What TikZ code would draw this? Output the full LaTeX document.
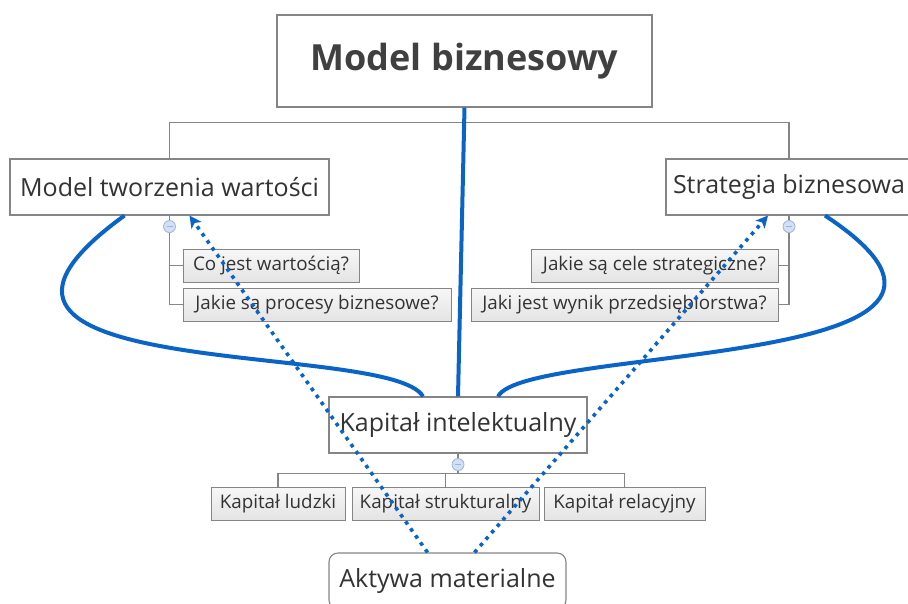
\documentclass[tikz,border=0pt]{standalone}
\usepackage{fontspec}
\setmainfont{Open Sans}
\usetikzlibrary{arrows.meta,calc}
\definecolor{cBoxD}{HTML}{858585}
\definecolor{cNoteF}{HTML}{F7F7F7}
\definecolor{cNoteB}{HTML}{E4E4E4}
\definecolor{cText}{HTML}{333333}
\definecolor{cRoot}{HTML}{404040}
\definecolor{cLink}{HTML}{0A64C8}
\definecolor{cMinusF}{HTML}{D2E0F5}
\definecolor{cMinusD}{HTML}{9DB4D6}
\tikzset{
  topic/.style = {draw=cBoxD, line width=1.1pt, fill=white, text=cText,
                  inner sep=0pt, minimum height=56pt, font=\fontsize{25}{30}\selectfont},
  root/.style  = {topic, text=cRoot, minimum height=92pt,
                  font=\fontsize{36}{42}\selectfont\bfseries},
  note/.style  = {draw=cBoxD, line width=1pt, top color=cNoteF, bottom color=cNoteB,
                  text=cText, inner sep=0pt, minimum height=33pt,
                  font=\fontsize{18.8}{22}\selectfont},
  tree/.style  = {cBoxD, line width=1.3pt},
  link/.style  = {cLink, line width=4pt},
  linkarr/.style = {cLink, line width=3.6pt, dash pattern=on 3.6pt off 5pt,
                  -{Stealth[length=12pt,width=12pt,inset=3pt]}},
  minus/.pic = {
    \draw[cMinusD, fill=cMinusF, line width=0.8pt] (0,0) circle (6pt);
    \draw[cMinusD, line width=1pt] (-3,0) -- (3,0);
  },
}
\begin{document}
\begin{tikzpicture}[x=1pt,y=-1pt]
  \useasboundingbox (0,0) rectangle (908,603);
  % main topics
  \node[root, minimum width=375pt] (mb) at (464.5,61) {Model biznesowy};
  \node[topic, minimum width=319pt] (mtw) at (169.5,187) {Model tworzenia wartości};
  \node[topic, minimum width=246pt] (sb) at (789,187) {Strategia biznesowa};
  \node[topic, minimum width=258pt] (ki) at (458,425) {Kapitał intelektualny};
  \node[topic, minimum width=237pt, rounded corners=9pt] (am) at (447.5,581) {Aktywa materialne};
  % questions
  \node[note, minimum width=176pt] (q1) at (271,265.5) {Co jest wartością?};
  \node[note, minimum width=268pt] (q2) at (317,304.5) {Jakie są procesy biznesowe?};
  \node[note, minimum width=247pt] (q3) at (654.5,265.5) {Jakie są cele strategiczne?};
  \node[note, minimum width=307pt] (q4) at (624.5,304.5) {Jaki jest wynik przedsiębiorstwa?};
  % capital parts
  \node[note, minimum width=134pt] (k1) at (278,503.5) {Kapitał ludzki};
  \node[note, minimum width=187pt] (k2) at (445.5,503.5) {Kapitał strukturalny};
  \node[note, minimum width=161pt] (k3) at (624.5,503.5) {Kapitał relacyjny};
  % tree lines
  \draw[tree] (mb.south) -- ++(0,15) coordinate (split);
  \draw[tree] (mtw.north) |- (split) -| (sb.north);
  \draw[tree] (mtw.south) |- (q1.west);
  \draw[tree] (mtw.south) |- (q2.west);
  \draw[tree] (sb.south) |- (q3.east);
  \draw[tree] (sb.south) |- (q4.east);
  \draw[tree] (ki.south) -- ++(0,20) coordinate (kisplit);
  \draw[tree] (k1.north) |- (kisplit) -| (k3.north);
  \draw[tree] (kisplit -| k2.north) -- (k2.north);
  \pic at ([yshift=-11pt]mtw.south) {minus};
  \pic at ([yshift=-11pt]sb.south) {minus};
  \pic at ([yshift=-11pt]ki.south) {minus};
  % relations
  \draw[link] (mb.south) -- (ki.north);
  \draw[link] ([xshift=-35pt]ki.north) .. controls +(-33,-57) and +(-235,170) .. ([xshift=-45pt]mtw.south);
  \draw[link] ([xshift=40pt]ki.north) .. controls +(27,-52) and +(235,155) .. ([xshift=36pt]sb.south);
  \draw[linkarr] ([xshift=-20pt]am.north) -- ([xshift=20pt]mtw.south);
  \draw[linkarr] ([xshift=27pt]am.north) -- ([xshift=-21pt]sb.south);
\end{tikzpicture}
\end{document}
